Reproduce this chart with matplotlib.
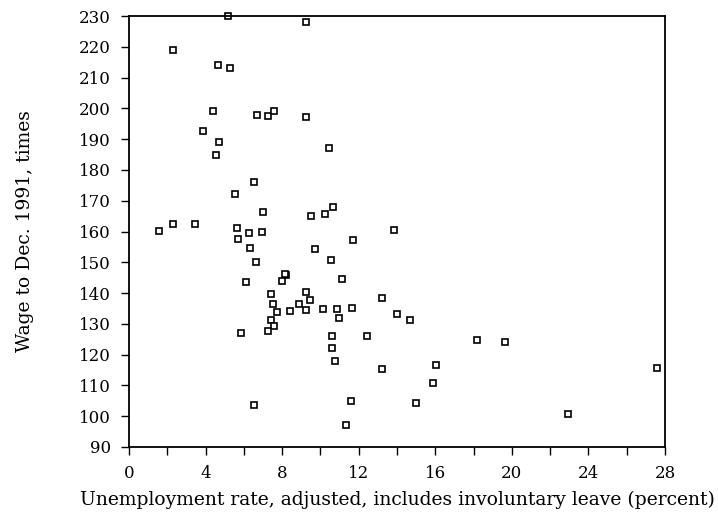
import numpy as np
import matplotlib.pyplot as plt
from matplotlib.ticker import MultipleLocator

# unemployment rate (percent), wage index to Dec. 1991 (times)
unemp = [5.19, 9.23, 2.32, 4.63, 5.28, 4.41, 6.67, 7.28, 7.58, 9.23,
         3.87, 4.70, 4.56, 10.47, 6.51, 5.54, 7.02, 10.66, 10.24, 9.53,
         1.55, 2.28, 3.43, 5.66, 6.27, 6.95, 13.83, 11.72, 5.71, 6.30,
         9.72, 6.62, 10.54, 6.10, 8.22, 8.16, 7.98, 11.15, 7.40, 9.23,
         9.46, 7.54, 8.90, 7.73, 8.41, 9.23, 10.12, 10.85, 11.65, 10.97,
         13.22, 14.00, 14.68, 7.42, 7.58, 7.25, 5.87, 10.62, 12.43, 10.59,
         10.75, 13.24, 6.55, 11.60, 14.99, 11.35, 18.17, 19.64, 16.02, 15.87,
         22.92, 27.59]
wage = [230.0, 227.9, 218.9, 214.0, 213.2, 199.3, 197.9, 197.6, 199.3, 197.3,
        192.8, 189.0, 184.8, 187.2, 176.0, 172.1, 166.3, 167.9, 165.8, 165.2,
        160.3, 162.5, 162.5, 161.1, 159.5, 159.8, 160.6, 157.4, 157.5, 154.8,
        154.4, 150.1, 150.7, 143.5, 145.8, 146.2, 144.0, 144.6, 139.8, 140.4,
        137.6, 136.6, 136.6, 133.8, 134.3, 134.5, 134.8, 134.8, 135.1, 132.0,
        138.4, 133.2, 131.4, 131.3, 129.3, 127.8, 127.0, 126.2, 126.0, 122.3,
        117.8, 115.2, 103.8, 104.8, 104.2, 97.0, 124.7, 124.0, 116.5, 110.7,
        100.6, 115.6]


def main():
    plt.rcParams['font.family'] = ['DejaVu Serif']
    fig = plt.figure(figsize=(7.18, 5.17), dpi=100)
    ax = fig.add_axes([0.1797, 0.1354, 0.7465, 0.8336])

    ax.plot(unemp, wage, linestyle='none', marker='s', markersize=5,
            markerfacecolor='white', markeredgecolor='black', markeredgewidth=1.2,
            clip_on=False)

    ax.set_xlim(0, 28)
    ax.set_ylim(90, 230)
    ax.xaxis.set_major_locator(MultipleLocator(4))
    ax.xaxis.set_minor_locator(MultipleLocator(2))
    ax.yaxis.set_major_locator(MultipleLocator(10))
    ax.tick_params(axis='both', which='major', labelsize=12, length=6, width=1, pad=7)
    ax.tick_params(axis='x', which='minor', length=6, width=1)
    for s in ax.spines.values():
        s.set_linewidth(1.3)

    ax.set_xlabel('Unemployment rate, adjusted, includes involuntary leave (percent)',
                  fontsize=13.5)
    ax.set_ylabel('Wage to Dec. 1991, times', fontsize=13.5)
    ax.xaxis.set_label_coords(0.5, -0.102)
    ax.yaxis.set_label_coords(-0.177, 0.5)

    fig.savefig('out.png', dpi=100)


if __name__ == "__main__":
    main()
